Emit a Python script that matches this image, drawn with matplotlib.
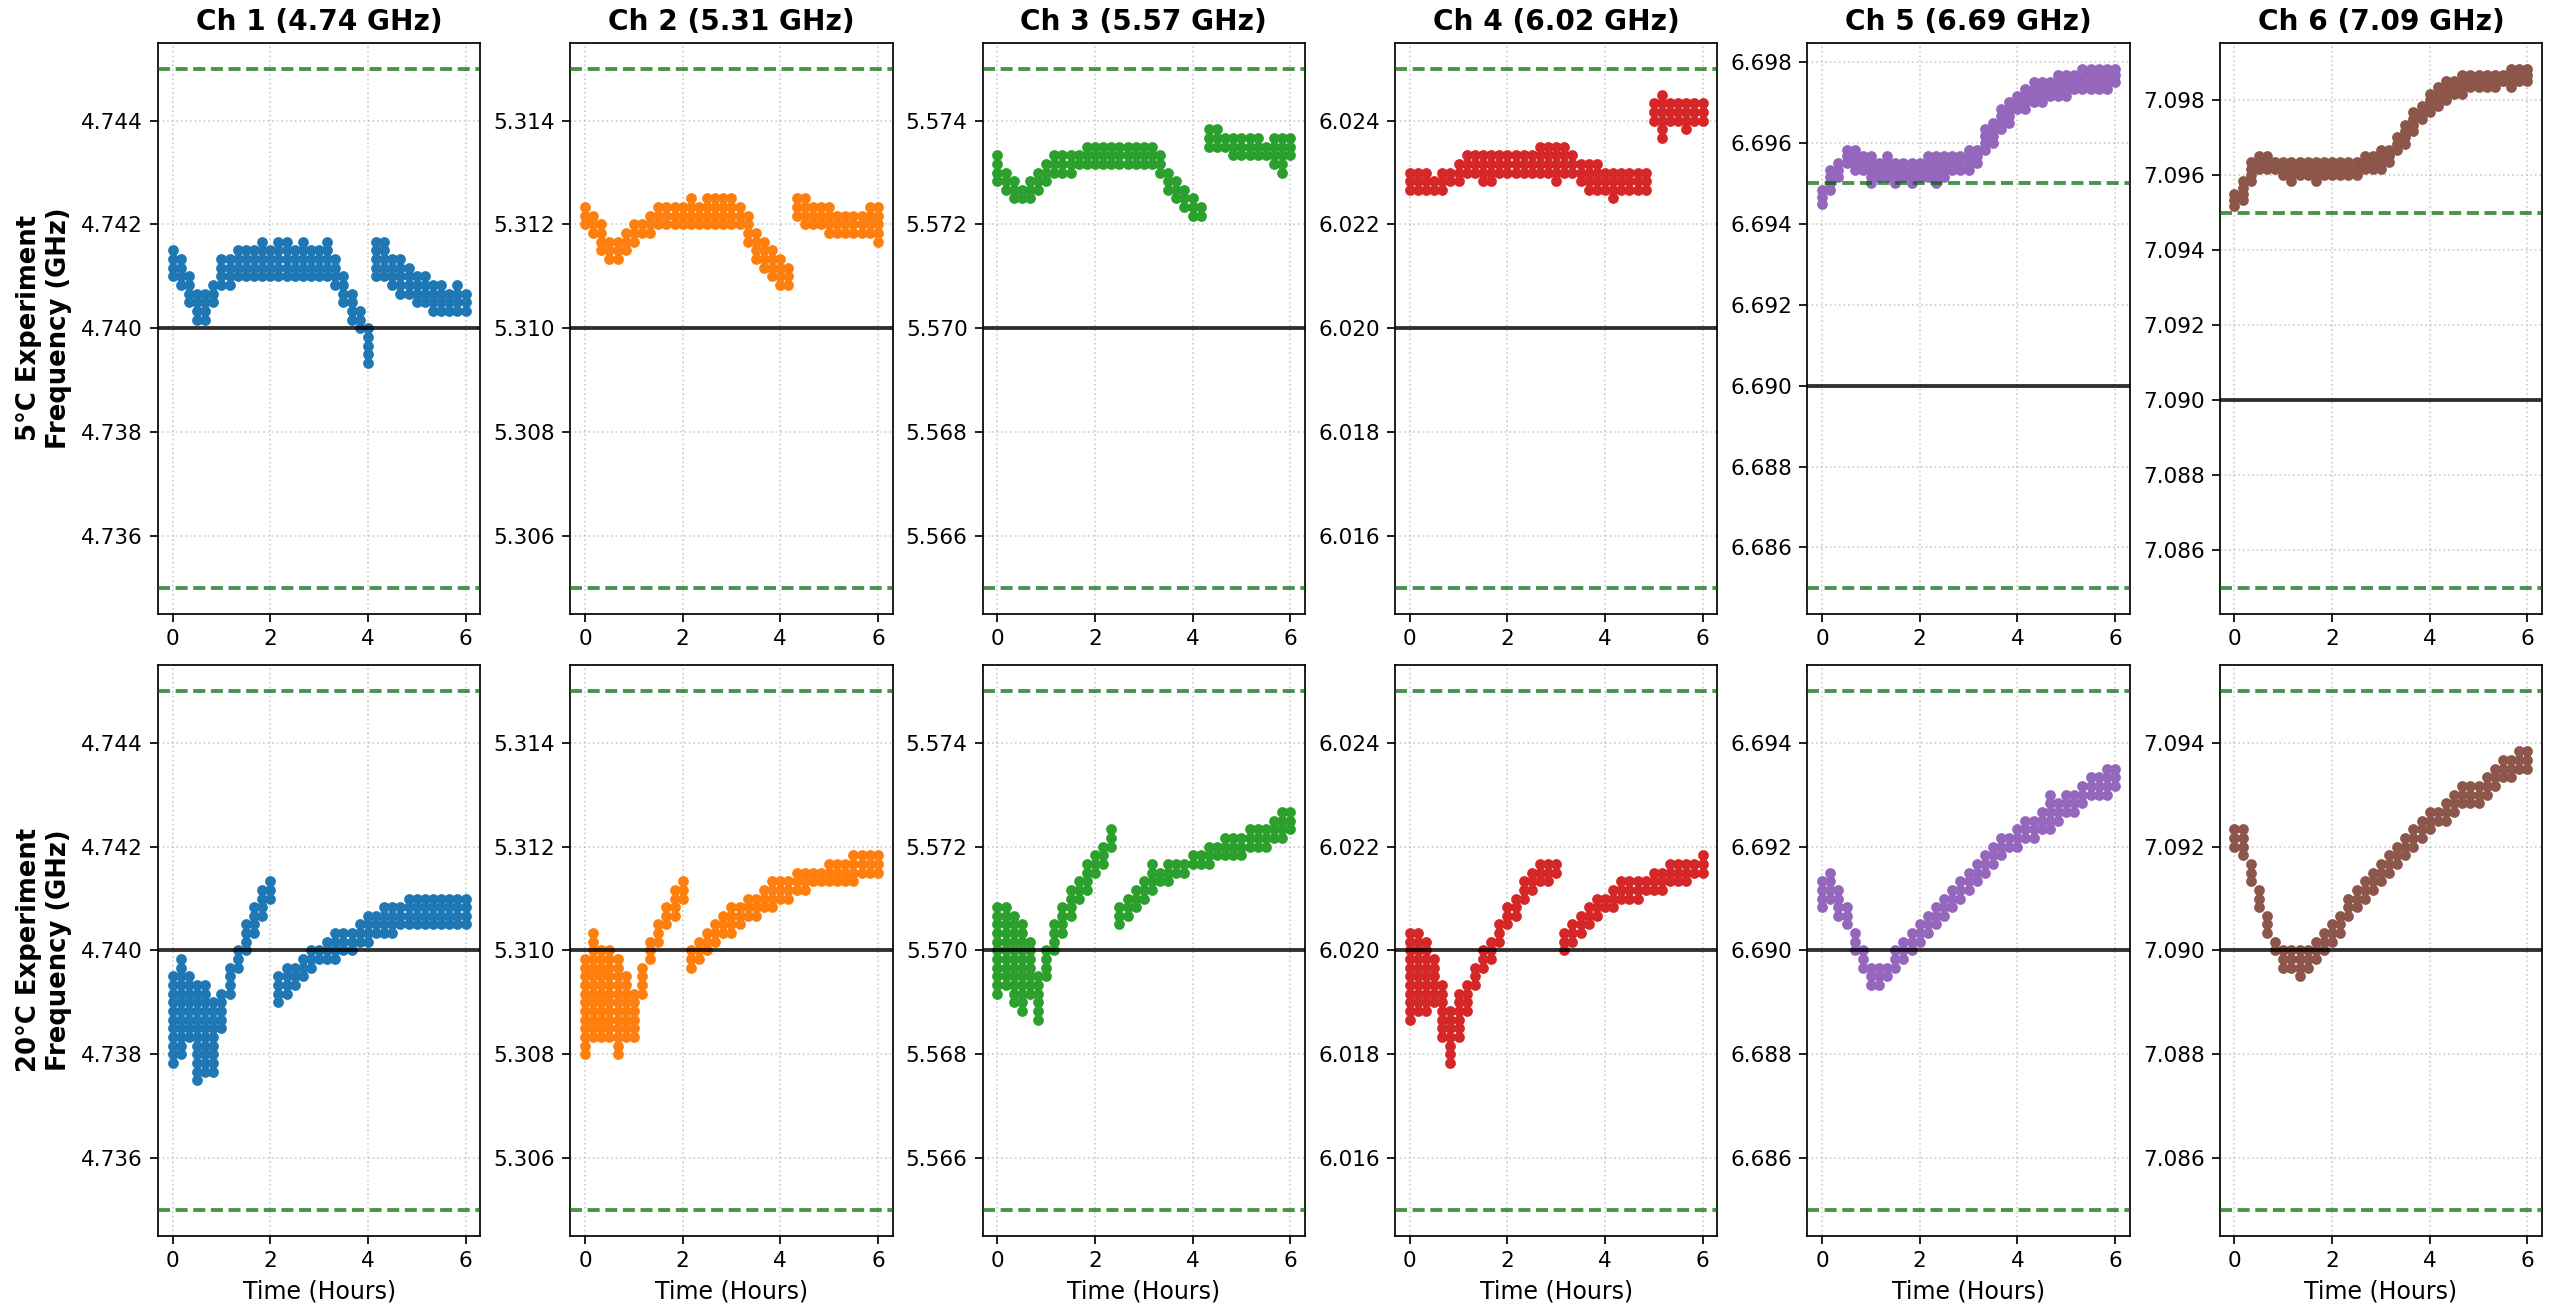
import numpy as np
import matplotlib
matplotlib.use("Agg")
import matplotlib.pyplot as plt
from matplotlib.ticker import MultipleLocator, ScalarFormatter

# Frequency readings every 10 minutes over a 6-hour run
sample_minutes = list(range(0, 361, 10))

channel_names = ["Ch 1", "Ch 2", "Ch 3", "Ch 4", "Ch 5", "Ch 6"]
nominal_ghz = [4.74, 5.31, 5.57, 6.02, 6.69, 7.09]
tolerance_ghz = 0.005
# counter resolution: readings land on a 166.7 kHz grid
resolution_ghz = 0.002 / 12
row_labels = ["5°C Experiment\nFrequency (GHz)", "20°C Experiment\nFrequency (GHz)"]
colors = ["#1f77b4", "#ff7f0e", "#2ca02c", "#d62728", "#9467bd", "#8c564b"]

# Spread of readings at each sample time, as lowest / highest offset from
# nominal in counter-resolution steps (every step in between was observed).
# ---- 5 °C run ----
ch1_5c_lo = [6, 5, 3, 1, 1, 3, 5, 5, 6, 6, 6, 6, 6, 6, 6, 6, 6, 6, 6, 6, 5, 3, 1, 0, -4, 6, 6, 5, 4, 4, 3, 3, 2, 2, 2, 2, 2]
ch1_5c_hi = [9, 8, 6, 4, 4, 5, 8, 8, 9, 9, 9, 10, 9, 10, 10, 9, 10, 9, 9, 10, 8, 6, 4, 2, 0, 10, 10, 8, 8, 7, 6, 6, 5, 5, 4, 5, 4]
ch2_5c_lo = [12, 11, 9, 8, 8, 9, 10, 11, 11, 12, 12, 12, 12, 12, 12, 12, 12, 12, 12, 12, 10, 8, 7, 6, 5, 5, 13, 12, 12, 12, 11, 11, 11, 11, 11, 11, 10]
ch2_5c_hi = [14, 13, 12, 10, 10, 11, 12, 12, 13, 14, 14, 14, 14, 15, 14, 15, 15, 15, 15, 14, 13, 11, 10, 9, 8, 7, 15, 15, 14, 14, 14, 13, 13, 13, 13, 14, 14]
ch3_5c_lo = [17, 16, 15, 15, 15, 16, 17, 18, 18, 18, 19, 19, 19, 19, 19, 19, 19, 19, 19, 19, 18, 16, 15, 14, 13, 13, 21, 21, 21, 20, 20, 20, 20, 20, 19, 18, 20]
ch3_5c_hi = [20, 18, 17, 16, 17, 18, 19, 20, 20, 20, 20, 21, 21, 21, 21, 21, 21, 21, 21, 21, 20, 18, 17, 16, 15, 14, 23, 23, 22, 22, 22, 22, 22, 21, 22, 22, 22]
ch4_5c_lo = [16, 16, 16, 16, 16, 17, 17, 18, 18, 17, 17, 18, 18, 18, 18, 18, 18, 18, 17, 18, 18, 17, 16, 16, 16, 15, 16, 16, 16, 16, 24, 22, 24, 24, 23, 24, 24]
ch4_5c_hi = [18, 18, 18, 17, 18, 18, 19, 20, 20, 20, 20, 20, 20, 20, 20, 20, 21, 21, 21, 21, 20, 19, 19, 19, 18, 18, 18, 18, 18, 18, 26, 27, 26, 26, 26, 26, 26]
ch5_5c_lo = [27, 29, 31, 33, 32, 32, 30, 31, 31, 30, 31, 30, 31, 31, 30, 31, 32, 32, 32, 33, 35, 36, 38, 39, 41, 41, 42, 42, 43, 43, 43, 44, 44, 44, 44, 44, 45]
ch5_5c_hi = [29, 32, 33, 35, 35, 34, 34, 33, 34, 33, 33, 33, 33, 34, 34, 34, 34, 34, 35, 35, 38, 39, 41, 42, 43, 44, 45, 45, 45, 46, 46, 46, 47, 47, 47, 47, 47]
ch6_5c_lo = [31, 32, 35, 37, 37, 37, 36, 35, 36, 36, 35, 36, 36, 36, 36, 36, 37, 37, 37, 38, 40, 41, 43, 45, 46, 47, 48, 49, 49, 50, 50, 50, 50, 51, 50, 51, 51]
ch6_5c_hi = [33, 35, 38, 39, 39, 38, 38, 38, 38, 38, 38, 38, 38, 38, 38, 38, 39, 39, 40, 40, 42, 44, 46, 47, 49, 50, 51, 51, 52, 52, 52, 52, 52, 52, 53, 53, 53]
# ---- 20 °C run ----
ch1_20c_lo = [-13, -12, -10, -15, -14, -14, -9, -5, -2, 0, 2, 4, 6, -6, -5, -4, -3, -2, -1, -1, -1, 0, 0, 1, 1, 2, 2, 2, 3, 3, 3, 3, 3, 3, 3, 3, 3]
ch1_20c_hi = [-3, -1, -3, -4, -4, -6, -5, -2, 0, 3, 5, 7, 8, -3, -2, -2, -1, 0, 0, 1, 2, 2, 2, 3, 4, 4, 5, 5, 5, 6, 6, 6, 6, 6, 6, 6, 6]
ch2_20c_lo = [-12, -10, -10, -10, -12, -10, -10, -5, -1, 1, 3, 4, 6, -2, -1, 0, 1, 2, 2, 3, 4, 4, 5, 5, 6, 6, 7, 7, 8, 8, 8, 8, 8, 8, 9, 9, 9]
ch2_20c_hi = [-1, 2, 0, 0, -1, -3, -5, -2, 1, 3, 5, 7, 8, 0, 1, 2, 3, 4, 5, 5, 6, 6, 7, 8, 8, 8, 9, 9, 9, 9, 10, 10, 10, 11, 11, 11, 11]
ch3_20c_lo = [-5, -4, -6, -7, -5, -8, -3, 0, 2, 4, 6, 7, 9, 10, 12, 3, 4, 5, 6, 7, 8, 8, 9, 9, 10, 10, 10, 11, 11, 11, 11, 12, 12, 12, 13, 13, 14]
ch3_20c_hi = [5, 5, 4, 3, 1, -3, 0, 3, 5, 7, 8, 10, 11, 12, 14, 5, 6, 7, 8, 10, 9, 10, 10, 10, 11, 11, 12, 12, 13, 13, 13, 14, 14, 14, 15, 16, 16]
ch4_20c_lo = [-8, -7, -7, -6, -10, -13, -10, -7, -4, -2, -1, 1, 3, 4, 6, 7, 8, 8, 9, 0, 1, 2, 3, 4, 5, 5, 6, 6, 6, 7, 7, 7, 8, 8, 8, 9, 9]
ch4_20c_hi = [2, 2, 1, -1, -4, -7, -5, -4, -2, 0, 1, 3, 5, 6, 8, 9, 10, 10, 10, 2, 3, 4, 5, 6, 6, 7, 8, 8, 8, 8, 9, 9, 10, 10, 10, 10, 11]
ch5_20c_lo = [5, 6, 4, 3, 0, -2, -4, -4, -3, -2, -1, 0, 1, 2, 3, 4, 5, 6, 7, 8, 9, 10, 11, 12, 12, 13, 13, 14, 14, 15, 16, 16, 17, 18, 18, 18, 19]
ch5_20c_hi = [8, 9, 7, 5, 2, 0, -2, -2, -2, 0, 1, 2, 3, 4, 5, 6, 7, 8, 9, 10, 11, 12, 13, 13, 14, 15, 15, 16, 18, 17, 18, 18, 19, 20, 20, 21, 21]
ch6_20c_lo = [12, 11, 8, 5, 2, 0, -2, -2, -3, -2, -1, 0, 1, 2, 4, 5, 6, 7, 8, 9, 10, 11, 12, 13, 14, 15, 15, 16, 17, 17, 17, 18, 19, 20, 20, 21, 21]
ch6_20c_hi = [14, 14, 10, 7, 4, 1, 0, 0, 0, 0, 1, 2, 3, 4, 6, 7, 8, 9, 10, 11, 12, 13, 14, 15, 16, 16, 17, 18, 19, 19, 19, 20, 21, 22, 22, 23, 23]

bands = [
    [(ch1_5c_lo, ch1_5c_hi), (ch2_5c_lo, ch2_5c_hi), (ch3_5c_lo, ch3_5c_hi),
     (ch4_5c_lo, ch4_5c_hi), (ch5_5c_lo, ch5_5c_hi), (ch6_5c_lo, ch6_5c_hi)],
    [(ch1_20c_lo, ch1_20c_hi), (ch2_20c_lo, ch2_20c_hi), (ch3_20c_lo, ch3_20c_hi),
     (ch4_20c_lo, ch4_20c_hi), (ch5_20c_lo, ch5_20c_hi), (ch6_20c_lo, ch6_20c_hi)],
]

DPI = 155
fig, axes = plt.subplots(2, 6, figsize=(2560 / DPI, 1310 / DPI), dpi=DPI)
fig.subplots_adjust(left=158 / 2560, right=2542 / 2560, top=1 - 42.7 / 1310,
                    bottom=1 - 1236 / 1310, wspace=0.28, hspace=0.0893)

hours = np.array(sample_minutes) / 60.0

for r in range(2):
    for c in range(6):
        ax = axes[r, c]
        nom = nominal_ghz[c]
        lo_list, hi_list = bands[r][c]
        xs, ys = [], []
        for t, lo, hi in zip(hours, lo_list, hi_list):
            for lvl in range(lo, hi + 1):
                xs.append(t)
                ys.append(nom + lvl * resolution_ghz)
        ax.scatter(xs, ys, s=25, color=colors[c], alpha=1.0, linewidths=0, zorder=2)
        ax.axhline(nom, color="black", lw=1.8, alpha=0.8, zorder=3)
        for edge in (nom + tolerance_ghz, nom - tolerance_ghz):
            ax.axhline(edge, color="darkgreen", lw=1.8, alpha=0.7, zorder=3,
                       linestyle=(0, (3.1, 1.45)))

        ax.grid(True, linestyle=":", alpha=0.6, zorder=0)
        ax.set_xticks([0, 2, 4, 6])
        ax.yaxis.set_major_locator(MultipleLocator(0.002))
        ax.yaxis.set_major_formatter(ScalarFormatter(useOffset=False))
        ax.tick_params(labelsize=10)
        if r == 0:
            ax.set_title(f"{channel_names[c]} ({nom:.2f} GHz)", fontsize=13, fontweight="bold")
        else:
            ax.set_xlabel("Time (Hours)", fontsize=11)
        if c == 0:
            ax.set_ylabel(row_labels[r], fontsize=12, fontweight="bold")

fig.savefig("out.png", dpi=DPI)
